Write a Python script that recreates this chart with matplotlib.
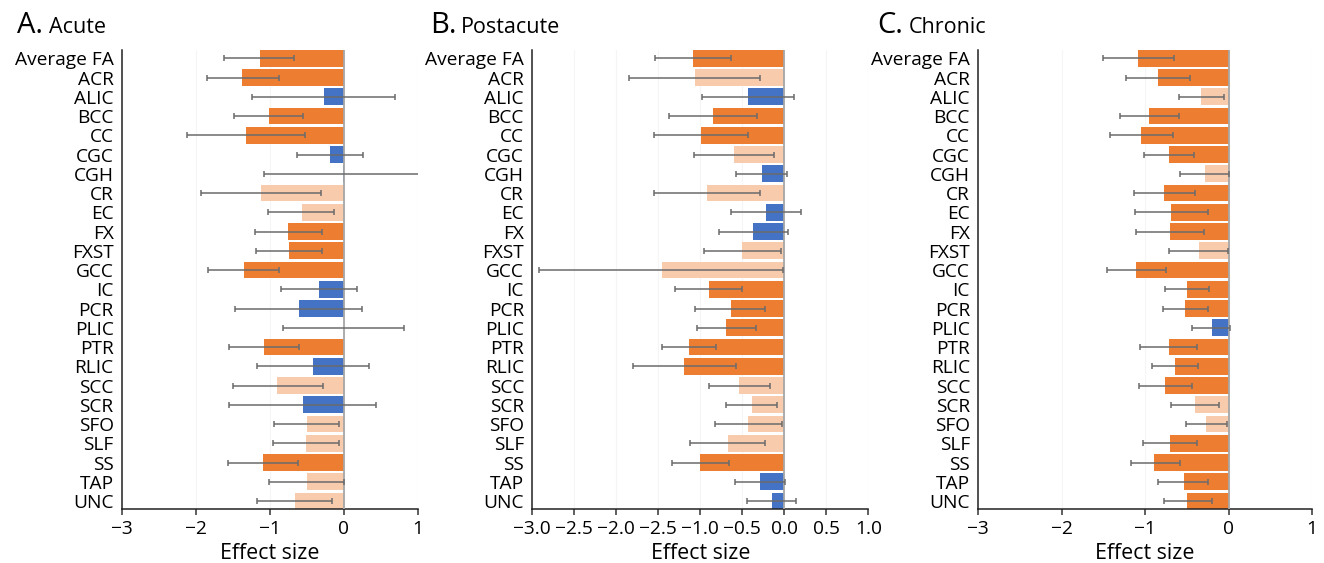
import matplotlib
matplotlib.use('Agg')
import matplotlib.pyplot as plt
import numpy as np

plt.rcParams['font.family'] = ['Open Sans', 'DejaVu Sans']

tracts = ['Average FA', 'ACR', 'ALIC', 'BCC', 'CC', 'CGC', 'CGH', 'CR', 'EC', 'FX',
          'FXST', 'GCC', 'IC', 'PCR', 'PLIC', 'PTR', 'RLIC', 'SCC', 'SCR', 'SFO',
          'SLF', 'SS', 'TAP', 'UNC']

# A. Acute
acute_val = [-1.14, -1.37, -0.27, -1.01, -1.32, -0.18, -0.01, -1.12, -0.57, -0.75,
             -0.74, -1.35, -0.34, -0.61, 0.0, -1.08, -0.42, -0.90, -0.55, -0.50,
             -0.51, -1.09, -0.50, -0.66]
acute_lo = [-1.62, -1.85, -1.24, -1.48, -2.12, -0.63, -1.08, -1.93, -1.03, -1.20,
            -1.19, -1.84, -0.85, -1.47, -0.82, -1.55, -1.18, -1.50, -1.55, -0.95,
            -0.96, -1.56, -1.01, -1.17]
acute_hi = [-0.67, -0.88, 0.69, -0.55, -0.52, 0.26, 1.05, -0.31, -0.13, -0.29,
            -0.29, -0.87, 0.18, 0.25, 0.82, -0.60, 0.34, -0.28, 0.43, -0.06,
            -0.07, -0.62, 0.0, -0.16]
acute_cls = ['o', 'o', 'b', 'o', 'o', 'b', 'b', 'l', 'l', 'o',
             'o', 'o', 'b', 'b', 'b', 'o', 'b', 'l', 'b', 'l',
             'l', 'o', 'l', 'l']

# B. Postacute
post_val = [-1.09, -1.06, -0.43, -0.85, -0.99, -0.60, -0.27, -0.92, -0.22, -0.37,
            -0.50, -1.46, -0.90, -0.64, -0.69, -1.13, -1.19, -0.54, -0.39, -0.43,
            -0.67, -1.00, -0.29, -0.15]
post_lo = [-1.54, -1.85, -0.98, -1.37, -1.55, -1.07, -0.58, -1.55, -0.64, -0.78,
           -0.96, -2.92, -1.30, -1.06, -1.04, -1.46, -1.80, -0.90, -0.69, -0.82,
           -1.12, -1.34, -0.59, -0.45]
post_hi = [-0.64, -0.29, 0.11, -0.33, -0.43, -0.12, 0.03, -0.29, 0.20, 0.04,
           -0.04, -0.02, -0.50, -0.23, -0.34, -0.81, -0.58, -0.17, -0.09, -0.03,
           -0.23, -0.66, 0.01, 0.14]
post_cls = ['o', 'l', 'b', 'o', 'o', 'l', 'b', 'l', 'b', 'b',
            'l', 'l', 'o', 'o', 'o', 'o', 'o', 'l', 'l', 'l',
            'l', 'o', 'b', 'b']

# C. Chronic
chron_val = [-1.08, -0.85, -0.33, -0.95, -1.05, -0.71, -0.28, -0.77, -0.69, -0.70,
             -0.36, -1.11, -0.50, -0.52, -0.20, -0.72, -0.64, -0.76, -0.40, -0.27,
             -0.70, -0.89, -0.54, -0.50]
chron_lo = [-1.50, -1.23, -0.60, -1.30, -1.42, -1.01, -0.58, -1.13, -1.12, -1.11,
            -0.72, -1.46, -0.76, -0.79, -0.44, -1.06, -0.92, -1.07, -0.69, -0.51,
            -1.02, -1.17, -0.84, -0.78]
chron_hi = [-0.65, -0.46, -0.06, -0.60, -0.67, -0.41, 0.0, -0.40, -0.25, -0.30,
            -0.01, -0.75, -0.23, -0.25, 0.02, -0.38, -0.37, -0.44, -0.12, -0.02,
            -0.38, -0.58, -0.25, -0.20]
chron_cls = ['o', 'o', 'l', 'o', 'o', 'o', 'l', 'o', 'o', 'o',
             'l', 'o', 'o', 'o', 'b', 'o', 'o', 'o', 'l', 'l',
             'o', 'o', 'o', 'o']

ticks_int = [-3, -2, -1, 0, 1]
labels_int = ['\u22123', '\u22122', '\u22121', '0', '1']
ticks_half = [-3.0, -2.5, -2.0, -1.5, -1.0, -0.5, 0.0, 0.5, 1.0]
labels_half = ['\u22123.0', '\u22122.5', '\u22122.0', '\u22122.5', '\u22121.0',
               '\u22120.5', '0.0', '0.5', '1.0']

colors = {'o': '#ED7D31', 'l': '#F8CBAD', 'b': '#4472C4'}

panels = [
    ('A.', 'Acute', acute_val, acute_lo, acute_hi, acute_cls, ticks_int, labels_int,
     [122, 417.7], (17, 49)),
    ('B.', 'Postacute', post_val, post_lo, post_hi, post_cls, ticks_half, labels_half,
     [532.3, 868.3], (430, 461)),
    ('C.', 'Chronic', chron_val, chron_lo, chron_hi, chron_cls, ticks_int, labels_int,
     [978.3, 1312], (877, 909)),
]

W, H = 1324, 563
fig = plt.figure(figsize=(W / 100, H / 100), dpi=100)

for letter, name, val, lo, hi, cls, ticks, tlabels, (x0, x1), (tx, nx) in panels:
    ax = fig.add_axes([x0 / W, (H - 509.3) / H, (x1 - x0) / W, (509.3 - 50) / H])
    y = np.arange(len(tracts))
    val = np.array(val)
    xerr = [val - np.array(lo), np.array(hi) - val]
    ax.barh(y, val, height=0.86, color=[colors[c] for c in cls], zorder=2)
    ax.axvline(0, color='#a6a6a6', lw=1.3, zorder=3)
    ax.errorbar(val, y, xerr=xerr, fmt='none', ecolor='#6b6b6b', elinewidth=1.1,
                capsize=2.2, capthick=1.1, zorder=4)
    for t in ticks:
        ax.axvline(t, color='#f5f5f5', lw=0.8, zorder=0)
    ax.set_xlim(ticks[0], ticks[-1])
    ax.set_ylim(len(tracts) - 1 + 0.43, -0.43)
    ax.set_yticks(y)
    ax.set_yticklabels(tracts, fontsize=13.8)
    ax.tick_params(axis='y', length=0, pad=6)
    ax.set_xticks(ticks)
    ax.set_xticklabels(tlabels, fontsize=13.8)
    ax.tick_params(axis='x', length=4, width=1.1, pad=4, color='#333333')
    ax.set_xlabel('Effect size', fontsize=15.4, labelpad=3)
    for s in ['top', 'right']:
        ax.spines[s].set_visible(False)
    for s in ['left', 'bottom']:
        ax.spines[s].set_linewidth(1.1)
        ax.spines[s].set_color('#222222')
    fig.text(tx / W, (H - 33) / H, letter, fontsize=21, va='baseline', ha='left')
    fig.text(nx / W, (H - 33) / H, name, fontsize=15.5, va='baseline', ha='left')

fig.savefig('out.png', dpi=100)
